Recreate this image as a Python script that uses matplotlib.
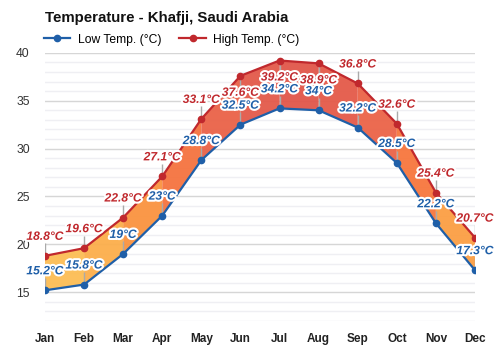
import numpy as np
import matplotlib
matplotlib.use("Agg")
import matplotlib.pyplot as plt
import matplotlib.patheffects as pe
from matplotlib.colors import LinearSegmentedColormap, Normalize

months = ["Jan", "Feb", "Mar", "Apr", "May", "Jun", "Jul", "Aug", "Sep", "Oct", "Nov", "Dec"]
low = [15.2, 15.8, 19, 23, 28.8, 32.5, 34.2, 34, 32.2, 28.5, 22.2, 17.3]
high = [18.8, 19.6, 22.8, 27.1, 33.1, 37.6, 39.2, 38.9, 36.8, 32.6, 25.4, 20.7]

plt.rcParams['font.family'] = ['Liberation Sans', 'DejaVu Sans']

blue = "#1f5fa8"
red = "#c0282d"
cmap = LinearSegmentedColormap.from_list("temp", ["#fcbf55", "#fb9a40", "#f7773d", "#ec6548", "#e0554a"])
norm = Normalize(17, 37)

fig = plt.figure(figsize=(5, 3.5), dpi=100)
ax = fig.add_axes([0.09, 0.083, 0.86, 0.766])
x = np.arange(len(months))

# grid (every degree, stronger every 5)
for v in range(12, 41):
    ax.axhline(v, color="#d6d6d6" if v % 5 == 0 else "#efeff3", lw=1, zorder=0.5)

# coloured bands between low and high
for i in range(len(x) - 1):
    m = (low[i] + low[i+1] + high[i] + high[i+1]) / 4
    ax.fill_between(x[i:i+2], low[i:i+2], high[i:i+2], facecolor=cmap(norm(m)),
                    edgecolor="none", alpha=0.95, zorder=1.5)

ax.plot(x, low, color=blue, lw=1.6, marker="o", ms=4.5, zorder=3, label="Low Temp. (°C)")
ax.plot(x, high, color=red, lw=1.6, marker="o", ms=4.5, zorder=3, label="High Temp. (°C)")

stroke = [pe.withStroke(linewidth=3, foreground="white")]
for i in range(len(x)):
    for v, c in ((low[i], blue), (high[i], red)):
        below = c == red and v > 37
        d = -1 if below else 1
        ax.vlines(x[i], v, v + d * 1.3, color="#aaaaaa", lw=1, zorder=2)
        ax.annotate(f"{v:g}°C", (x[i], v), xytext=(0, -17 if below else 19), textcoords="offset pixels",
                    ha="center", va="center", color=c, fontsize=8.7, fontweight="bold",
                    fontstyle="italic", path_effects=stroke, zorder=4)

ax.set_xlim(0, 11)
ax.set_ylim(12, 40)
ax.set_yticks([15, 20, 25, 30, 35, 40])
ax.set_xticks(x)
ax.set_xticklabels(months, fontweight="bold", fontsize=8.5, color="#222222")
ax.tick_params(axis="y", length=0, labelsize=8.7, labelcolor="#333333", pad=11)
ax.tick_params(axis="x", length=0, pad=9)
for s in ax.spines.values():
    s.set_visible(False)

fig.text(0.09, 0.948, "Temperature - Khafji, Saudi Arabia", fontsize=10.8, fontweight="bold",
         va="center", ha="left", color="#111111")
fig.legend(loc="center left", bbox_to_anchor=(0.078, 0.887), ncol=2, frameon=False,
           fontsize=8.7, handlelength=2.2, handletextpad=0.6, columnspacing=1.5, borderaxespad=0)

fig.savefig("out.png", dpi=100)
